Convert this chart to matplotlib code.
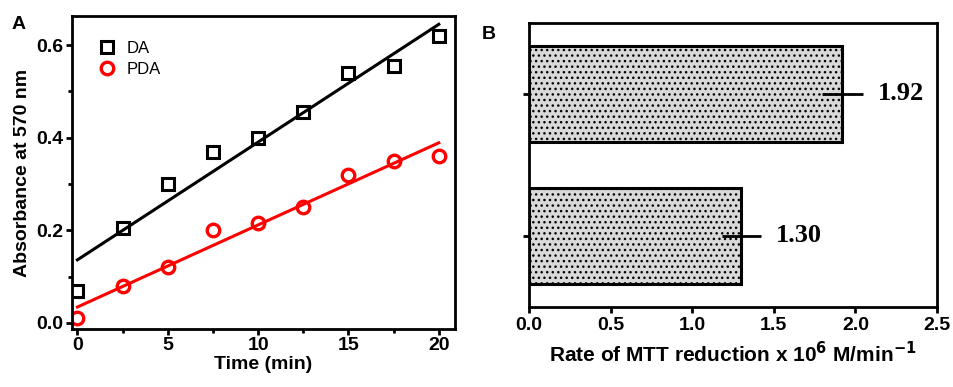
import numpy as np
import matplotlib.pyplot as plt
from matplotlib.ticker import MultipleLocator

plt.rcParams['font.family'] = ['Liberation Sans', 'DejaVu Sans']
plt.rcParams['hatch.linewidth'] = 1.0

# panel A data
time_min = [0, 2.5, 5, 7.5, 10, 12.5, 15, 17.5, 20]
abs_da = [0.07, 0.205, 0.30, 0.37, 0.40, 0.455, 0.54, 0.555, 0.62]
abs_pda = [0.01, 0.08, 0.12, 0.20, 0.215, 0.25, 0.32, 0.35, 0.36]

# panel B data
bar_names = ['PDA', 'DA']
rates = [1.30, 1.92]
rate_err = [0.12, 0.125]

fig = plt.figure(figsize=(9.54, 3.87), dpi=100)

# ---- panel A ----
ax1 = fig.add_axes([0.0755, 0.150, 0.4015, 0.8088])
ax1.plot(time_min, abs_da, 's', mfc='none', mec='black', mew=2.2, ms=8, label='DA')
ax1.plot(time_min, abs_pda, 'o', mfc='none', mec='red', mew=2.4, ms=9, label='PDA')
t = np.array(time_min)
for y, c in [(abs_da, 'black'), (abs_pda, 'red')]:
    k, b = np.polyfit(t, y, 1)
    ax1.plot([0, 20], [b, k * 20 + b], color=c, lw=2.2)

ax1.set_xlim(-0.3, 20.9)
ax1.set_ylim(-0.013, 0.663)
ax1.xaxis.set_major_locator(MultipleLocator(5))
ax1.xaxis.set_minor_locator(MultipleLocator(2.5))
ax1.yaxis.set_major_locator(MultipleLocator(0.2))
ax1.yaxis.set_minor_locator(MultipleLocator(0.1))
ax1.tick_params(which='both', direction='out', width=2, labelsize=14)
ax1.tick_params(which='major', length=4, pad=2)
ax1.tick_params(which='minor', length=3)
for lab in ax1.get_xticklabels() + ax1.get_yticklabels():
    lab.set_fontweight('bold')
for s in ax1.spines.values():
    s.set_linewidth(2)
ax1.set_xlabel('Time (min)', fontsize=14, fontweight='bold', labelpad=1)
ax1.set_ylabel('Absorbance at 570 nm', fontsize=14, fontweight='bold', labelpad=4)
ax1.legend(loc='upper left', frameon=False, fontsize=12, handletextpad=0.6,
           borderaxespad=1.1, labelspacing=0.35, handlelength=1.2)
fig.text(0.012, 0.925, 'A', fontsize=14, fontweight='bold')

# ---- panel B ----
ax2 = fig.add_axes([0.5545, 0.2067, 0.4277, 0.734])
ypos = np.arange(len(rates))
ax2.barh(ypos, rates, height=0.68, color='#d9d9d9', edgecolor='black',
         linewidth=2.2, hatch='...')
ax2.errorbar(rates, ypos, xerr=rate_err, fmt='none', ecolor='black',
             elinewidth=2, capsize=0)
for y, r, e in zip(ypos, rates, rate_err):
    ax2.text(r + e + 0.09, y, f'{r:.2f}', va='center', ha='left',
             fontsize=19, fontweight='bold', family='Liberation Serif')
ax2.set_xlim(0, 2.5)
ax2.set_ylim(-0.5, 1.5)
ax2.set_yticks(ypos)
ax2.set_yticklabels([])
ax2.xaxis.set_major_locator(MultipleLocator(0.5))
ax2.tick_params(direction='out', width=2, length=4, labelsize=14)
for lab in ax2.get_xticklabels():
    lab.set_fontweight('bold')
for s in ax2.spines.values():
    s.set_linewidth(2)
ax2.set_xlabel(r'Rate of MTT reduction x 10$^\mathbf{6}$ M/min$^\mathbf{-1}$',
               fontsize=15, fontweight='bold', labelpad=5)
fig.text(0.505, 0.9, 'B', fontsize=14, fontweight='bold')

fig.savefig('out.png', dpi=100)
